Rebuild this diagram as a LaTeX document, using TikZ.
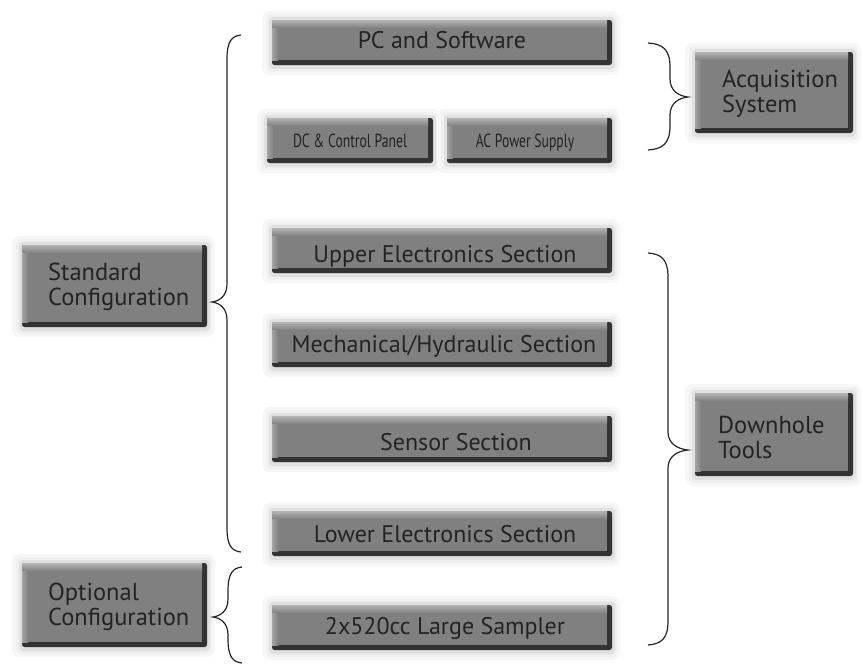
\documentclass[tikz,border=0pt]{standalone}
\usepackage{fontspec}
\setmainfont{PT Sans}
\newfontfamily\narrowfont[FakeStretch=0.72]{PT Sans}
\definecolor{txt}{HTML}{232323}
\definecolor{face}{HTML}{808080}
\definecolor{bevel}{HTML}{B4B4B4}
\definecolor{edge}{HTML}{333333}
\definecolor{bracec}{HTML}{262626}
% key-like box: #1 x1, #2 y1, #3 x2, #4 y2 (pixels, y downward)
\newcommand{\kbox}[4]{%
  \fill[black!3,rounded corners=8pt] ({#1-10},{#2-9}) rectangle ({#3+8},{#4+10});
  \fill[black!6,rounded corners=6pt] ({#1-6},{#2-6}) rectangle ({#3+5},{#4+7});
  \fill[black!12,rounded corners=4pt] ({#1-3},{#2-3}) rectangle ({#3+3},{#4+4});
  \fill[edge,rounded corners=2.5pt] (#1,#2) rectangle (#3,#4);
  \fill[face] (#1,#2) rectangle ({#3-5},{#4-5});
  \shade[top color=bevel,bottom color=face] (#1,#2) rectangle ({#3-5},{#2+8});
  \shade[left color=bevel!70!face,right color=face] (#1,{#2+8}) rectangle ({#1+6},{#4-5});
}
% curly brace: #1 end x, #2 spine x, #3 tip x, #4 top y, #5 tip y, #6 bottom y
\newcommand{\cbrace}[6]{%
  \draw[brc] (#1,#4) .. controls ({#2+0.35*(#1-#2)},{#4+1}) and (#2,{#4+6}) .. (#2,{#4+24})
    -- (#2,{#5-18}) .. controls (#2,{#5-6}) and ({#2+0.5*(#3-#2)},{#5-1}) .. (#3,#5)
    .. controls ({#2+0.5*(#3-#2)},{#5+1}) and (#2,{#5+6}) .. (#2,{#5+18})
    -- (#2,{#6-24}) .. controls (#2,{#6-6}) and ({#2+0.35*(#1-#2)},{#6-1}) .. (#1,#6);
}
\begin{document}
\begin{tikzpicture}[x=1pt,y=-1pt,
  brc/.style={draw=bracec,line width=1.2pt},
  lbl/.style={text=txt,inner sep=0pt,font=\fontsize{24}{25}\selectfont},
  slbl/.style={text=txt,inner sep=0pt,font=\narrowfont\fontsize{19}{20}\selectfont},
  sidelbl/.style={text=txt,inner sep=0pt,align=left,font=\fontsize{24.5}{25}\selectfont}]
\useasboundingbox (0,0) rectangle (863,665);
\fill[white] (0,0) rectangle (863,665);

% boxes
\kbox{272}{20}{612}{65}
\kbox{267}{118}{433}{163}
\kbox{447}{118}{612}{163}
\kbox{272}{228}{612}{273}
\kbox{272}{322}{612}{367}
\kbox{272}{416}{612}{462}
\kbox{272}{511}{612}{556}
\kbox{272}{605}{612}{650}
\kbox{695}{52}{853}{133}
\kbox{22}{245}{207}{327}
\kbox{22}{563}{207}{647}
\kbox{695}{393}{853}{476}

% labels
\node[lbl,anchor=base] (pc) at (442,48) {PC and Software};
\node[slbl,anchor=base] (dc) at (350,147) {DC \& Control Panel};
\node[slbl,anchor=base] (ac) at (525,147) {AC Power Supply};
\node[lbl,anchor=base] (upper) at (445,262) {Upper Electronics Section};
\node[lbl,anchor=base] (mech) at (444,352) {Mechanical/Hydraulic Section};
\node[lbl,anchor=base] (sensor) at (456,450) {Sensor Section};
\node[lbl,anchor=base] (lower) at (445,542) {Lower Electronics Section};
\node[lbl,anchor=base] (sampler) at (445,634) {2x520cc Large Sampler};
\node[sidelbl,anchor=base west] (acq) at (722,112) {Acquisition\\System};
\node[sidelbl,anchor=base west] (std) at (48,305) {Standard\\Configuration};
\node[sidelbl,anchor=base west] (opt) at (48,625) {Optional\\Configuration};
\node[sidelbl,anchor=base west] (down) at (718,458) {Downhole\\Tools};

% braces
\cbrace{241}{227}{212}{35}{302}{552}
\cbrace{242}{228}{213}{567}{617}{663}
\cbrace{648}{670}{688}{43}{97}{150}
\cbrace{648}{668}{688}{253}{450}{645}
\end{tikzpicture}
\end{document}
